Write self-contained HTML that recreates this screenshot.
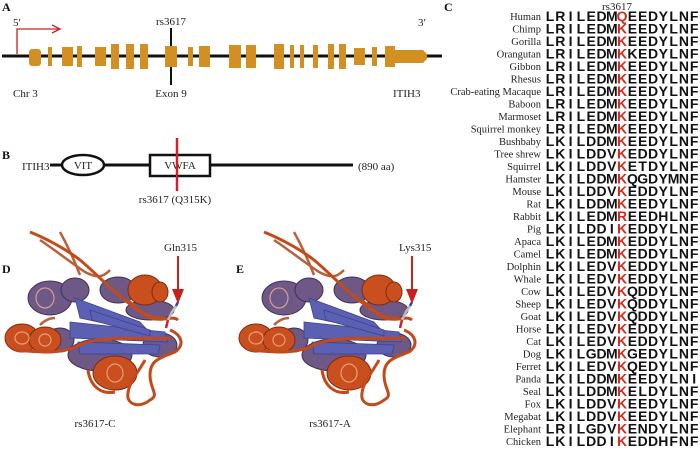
<!DOCTYPE html>
<html><head><meta charset="utf-8"><style>
html,body{margin:0;padding:0;background:#fff;}
svg{display:block;}
.s{font-family:"Liberation Serif",serif;font-size:11px;fill:#222;}
.b{font-family:"Liberation Serif",serif;font-size:12px;font-weight:bold;fill:#111;}
.n{font-family:"Liberation Serif",serif;font-size:10.5px;fill:#222;text-anchor:end;}
.q{font-family:"Liberation Sans",sans-serif;font-size:14px;font-weight:bold;fill:#111;text-anchor:middle;}
.r{fill:#d42a20;}
</style></head><body>
<svg width="700" height="449" viewBox="0 0 700 449" xmlns="http://www.w3.org/2000/svg">
<defs>
<g id="prot">
 <!-- loops back -->
 <g fill="none" stroke="#b9603a" stroke-width="2.5">
  <path d="M40 240 C55 250 70 262 85 272 C100 280 105 275 110 270"/>
  <path d="M60 232 C70 250 75 262 80 275"/>
  <path d="M40 325 C45 320 50 318 55 318"/>
 </g>
 <!-- purple helices -->
 <g fill="#6d5886" stroke="#3f3058" stroke-width="1">
  <ellipse cx="50" cy="298" rx="22" ry="17"/>
  <ellipse cx="75" cy="290" rx="14" ry="12"/>
  <ellipse cx="118" cy="290" rx="18" ry="13"/>
  <ellipse cx="150" cy="310" rx="24" ry="10"/>
  <ellipse cx="100" cy="355" rx="32" ry="16"/>
  <ellipse cx="160" cy="345" rx="17" ry="12"/>
  <ellipse cx="60" cy="340" rx="14" ry="12"/>
 </g>
 <!-- blue sheets -->
 <g fill="#5b60b3" stroke="#3e4290" stroke-width="0.8">
  <path d="M75 298 L140 322 L150 333 L80 318 Z"/>
  <path d="M70 322 L165 332 L168 342 L70 338 Z"/>
  <path d="M78 342 L160 345 L158 354 L80 354 Z"/>
  <path d="M90 310 L150 330 L150 336 L92 320 Z"/>
 </g>
 <!-- orange helices -->
 <g fill="#c9501e" stroke="#7e2c0c" stroke-width="1">
  <ellipse cx="145" cy="290" rx="17" ry="15"/>
  <ellipse cx="22" cy="338" rx="17" ry="14"/>
  <ellipse cx="45" cy="340" rx="16" ry="13"/>
  <ellipse cx="115" cy="373" rx="22" ry="17"/>
  <ellipse cx="160" cy="292" rx="8" ry="10"/>
 </g>
 <g fill="none" stroke="#f0b090" stroke-width="1.2" opacity="0.8">
  <ellipse cx="45" cy="298" rx="9" ry="10"/>
  <ellipse cx="115" cy="373" rx="8" ry="9"/>
  <ellipse cx="22" cy="338" rx="7" ry="6"/>
  <ellipse cx="45" cy="340" rx="6" ry="6"/>
 </g>
 <!-- orange loops front -->
 <g fill="none" stroke="#c34a1a" stroke-width="3">
  <path d="M30 232 C50 240 70 252 80 260 C95 272 120 300 150 318 C165 322 172 315 178 320"/>
  <path d="M170 330 C182 335 185 345 175 352 C160 358 150 360 150 375 C150 390 160 395 150 400 C140 408 130 405 128 398 C126 385 140 370 145 360"/>
  <path d="M15 350 C40 352 60 355 80 345 C100 335 140 340 170 338"/>
  <path d="M128 300 C140 312 150 320 165 318"/>
  <path d="M88 370 C90 385 100 395 115 392"/>
 </g>
 <!-- side chain -->
 <g stroke-width="2.5" fill="none">
  <path d="M168 320 L172 312 L176 306" stroke="#bbb"/>
  <path d="M176 306 L178 302" stroke="#3344aa"/>
  <path d="M168 320 L166 328" stroke="#cc2222"/>
 </g>
</g>
</defs>

<!-- Panel A -->
<text x="2" y="11" class="b">A</text>
<text x="13" y="26" class="s">5′</text>
<text x="418" y="26" class="s">3′</text>
<text x="171" y="25" class="s" text-anchor="middle">rs3617</text>
<line x1="171" y1="28" x2="171" y2="85" stroke="#111" stroke-width="2"/>
<line x1="2" y1="56" x2="442" y2="56" stroke="#111" stroke-width="3"/>
<g fill="#d39022">
 <rect x="29" y="49" width="12" height="17" rx="3"/>
 <rect x="48" y="47" width="4" height="19"/>
 <rect x="62" y="47" width="11" height="19"/>
 <rect x="77" y="46" width="5" height="21"/>
 <rect x="95" y="47" width="11" height="19"/>
 <rect x="111" y="44" width="8" height="25"/>
 <rect x="126" y="44" width="8" height="25"/>
 <rect x="140" y="44" width="8" height="25"/>
 <rect x="165" y="46" width="12" height="21"/>
 <rect x="188" y="47" width="5" height="19"/>
 <rect x="199" y="46" width="11" height="21"/>
 <rect x="229" y="45" width="12" height="23"/>
 <rect x="246" y="45" width="10" height="23"/>
 <rect x="274" y="44" width="10" height="25"/>
 <rect x="290" y="45" width="4" height="23"/>
 <rect x="300" y="45" width="4" height="23"/>
 <rect x="313" y="45" width="5" height="23"/>
 <rect x="328" y="44" width="6" height="25"/>
 <rect x="339" y="44" width="7" height="25"/>
 <rect x="354" y="48" width="11" height="17"/>
 <rect x="372" y="47" width="5" height="19"/>
 <path d="M385 46 L395 46 L395 50 L423 50 L427 54 L427 59 L423 63 L395 63 L395 67 L385 67 Z"/>
</g>
<path d="M17 54 L17 29 L58 29" fill="none" stroke="#c8201c" stroke-width="1.3"/>
<path d="M52 25 L60 29 L52 33" fill="none" stroke="#c8201c" stroke-width="1.3"/>
<text x="13" y="97" class="s">Chr 3</text>
<text x="171" y="97" class="s" text-anchor="middle">Exon 9</text>
<text x="393" y="97" class="s">ITIH3</text>

<!-- Panel B -->
<text x="2" y="159" class="b">B</text>
<text x="22" y="170" class="s">ITIH3</text>
<line x1="50" y1="165" x2="353" y2="165" stroke="#111" stroke-width="3"/>
<ellipse cx="83" cy="165" rx="21" ry="10" fill="#fff" stroke="#111" stroke-width="2.5"/>
<text x="83" y="169" class="s" text-anchor="middle">VIT</text>
<rect x="150" y="155" width="60" height="21" fill="#fff" stroke="#111" stroke-width="2.5"/>
<text x="180" y="169" class="s" text-anchor="middle">VWFA</text>
<line x1="177" y1="138" x2="177" y2="191" stroke="#d0202a" stroke-width="2.5"/>
<text x="175" y="203" class="s" text-anchor="middle">rs3617 (Q315K)</text>
<text x="358" y="170" class="s">(890 aa)</text>

<!-- Panels D/E -->
<text x="2" y="273" class="b">D</text>
<text x="236" y="273" class="b">E</text>
<text x="164" y="251" class="s">Gln315</text>
<text x="399" y="251" class="s">Lys315</text>
<use href="#prot"/>
<g transform="translate(234,0)"><use href="#prot"/></g>
<line x1="178" y1="256" x2="178" y2="292" stroke="#c8201c" stroke-width="2"/>
<path d="M172 289 L184 289 L178 304 Z" fill="#c8201c"/>
<line x1="412" y1="256" x2="412" y2="292" stroke="#c8201c" stroke-width="2"/>
<path d="M406 289 L418 289 L412 304 Z" fill="#c8201c"/>
<text x="95" y="427" class="s" text-anchor="middle">rs3617-C</text>
<text x="330" y="427" class="s" text-anchor="middle">rs3617-A</text>

<!-- Panel C -->
<text x="444" y="11" class="b">C</text>
<text x="617" y="10" class="s" text-anchor="middle">rs3617</text>
<text class="n" x="541" y="20">Human</text>
<text class="n" x="541" y="32.5">Chimp</text>
<text class="n" x="541" y="45">Gorilla</text>
<text class="n" x="541" y="57.5">Orangutan</text>
<text class="n" x="541" y="70">Gibbon</text>
<text class="n" x="541" y="82.5">Rhesus</text>
<text class="n" x="541" y="95">Crab-eating Macaque</text>
<text class="n" x="541" y="107.5">Baboon</text>
<text class="n" x="541" y="120">Marmoset</text>
<text class="n" x="541" y="132.5">Squirrel monkey</text>
<text class="n" x="541" y="145">Bushbaby</text>
<text class="n" x="541" y="157.5">Tree shrew</text>
<text class="n" x="541" y="170">Squirrel</text>
<text class="n" x="541" y="182.5">Hamster</text>
<text class="n" x="541" y="195">Mouse</text>
<text class="n" x="541" y="207.5">Rat</text>
<text class="n" x="541" y="220">Rabbit</text>
<text class="n" x="541" y="232.5">Pig</text>
<text class="n" x="541" y="245">Apaca</text>
<text class="n" x="541" y="257.5">Camel</text>
<text class="n" x="541" y="270">Dolphin</text>
<text class="n" x="541" y="282.5">Whale</text>
<text class="n" x="541" y="295">Cow</text>
<text class="n" x="541" y="307.5">Sheep</text>
<text class="n" x="541" y="320">Goat</text>
<text class="n" x="541" y="332.5">Horse</text>
<text class="n" x="541" y="345">Cat</text>
<text class="n" x="541" y="357.5">Dog</text>
<text class="n" x="541" y="370">Ferret</text>
<text class="n" x="541" y="382.5">Panda</text>
<text class="n" x="541" y="395">Seal</text>
<text class="n" x="541" y="407.5">Fox</text>
<text class="n" x="541" y="420">Megabat</text>
<text class="n" x="541" y="432.5">Elephant</text>
<text class="n" x="541" y="445">Chicken</text>
</svg>
<script>
(function(){
var seqs=["LRILEDMQEEDYLNF","LRILEDMKEEDYLNF","LRILEDMKEEDYLNF","LRILEDMKKEDYLNF","LRILEDMKEEDYLNF","LRILEDMKEEDYLNF","LRILEDMKEEDYLNF","LRILEDMKEEDYLNF","LRILEDMKEEDYLNF","LRILEDMKEEDYLNF","LKILDDMKEEDYLNF","LKILDDVKEDDYLNF","LKILDDVKETDYLNF","LKILDDMKQGDYMNF","LKILDDVKEDDYLNF","LKILDDMKEEDYLNF","LKILEDMREEDHLNF","LKILDDIKEDDYLNF","LKILEDMKEDDYLNF","LKILEDMKEDDYLNF","LKILEDVKEDDYLNF","LKILEDVKEDDYLNF","LKILEDVKQDDYLNF","LKILEDVKQDDYLNF","LKILEDVKQDDYLNF","LKILEDVKEDDYLNF","LKILEDVKEDDYLNF","LKILGDMKGEDYLNF","LKILEDVKQEDYLNF","LKILDDMKEEDYLNI","LKILDDMKELDYLNF","LKILDDVKEEDYLNF","LKILDDVKEEDYLNF","LRILGDVKENDYLNF","LKILDDIKEDDHFNF"];
var svg=document.querySelector('svg');var ns="http://www.w3.org/2000/svg";
seqs.forEach(function(s,i){
 for(var j=0;j<s.length;j++){var t=document.createElementNS(ns,'text');
  t.setAttribute('class','q'+(j==7?' r':''));t.setAttribute('x',550+j*10.3);t.setAttribute('y',21+i*12.5);
  t.textContent=s[j];svg.appendChild(t);}
});
})();
</script>
</body></html>
